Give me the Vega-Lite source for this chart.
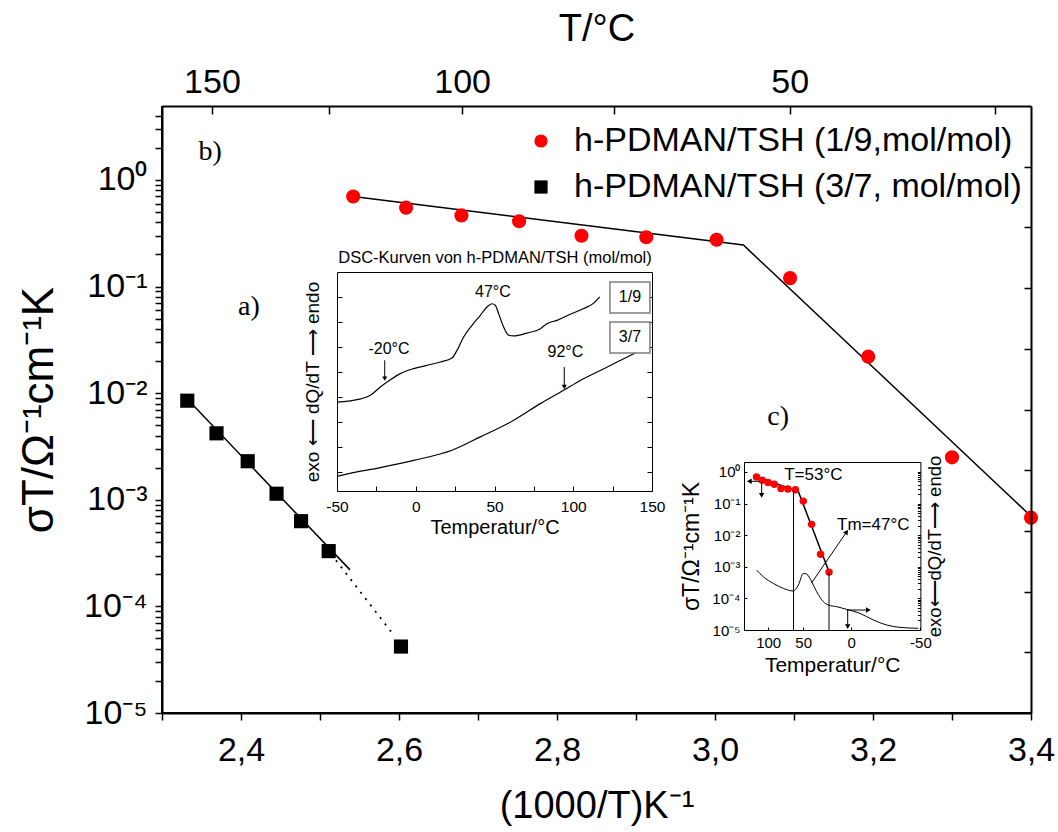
{
  "$schema": "https://vega.github.io/schema/vega-lite/v6.json",
  "width": 869,
  "height": 607,
  "autosize": "none",
  "padding": {"left": 162, "top": 106, "right": 27, "bottom": 119},
  "background": "white",
  "config": {
    "view": {"stroke": null},
    "axis": {"grid": false, "domain": true, "domainColor": "black", "tickColor": "black", "labelColor": "black", "titleColor": "black", "labelFont": "Liberation Sans", "titleFont": "Liberation Sans", "titleFontWeight": "normal", "labelOverlap": false, "labelBound": false, "labelFlush": false},
    "text": {"color": "black"}
  },
  "datasets": {
    "pts": [
      {"series": "h-PDMAN/TSH (1/9,mol/mol)", "x": 2.542, "y": 0.70},
      {"series": "h-PDMAN/TSH (1/9,mol/mol)", "x": 2.609, "y": 0.55},
      {"series": "h-PDMAN/TSH (1/9,mol/mol)", "x": 2.679, "y": 0.465},
      {"series": "h-PDMAN/TSH (1/9,mol/mol)", "x": 2.752, "y": 0.41},
      {"series": "h-PDMAN/TSH (1/9,mol/mol)", "x": 2.831, "y": 0.30},
      {"series": "h-PDMAN/TSH (1/9,mol/mol)", "x": 2.913, "y": 0.29},
      {"series": "h-PDMAN/TSH (1/9,mol/mol)", "x": 3.002, "y": 0.275},
      {"series": "h-PDMAN/TSH (1/9,mol/mol)", "x": 3.095, "y": 0.12},
      {"series": "h-PDMAN/TSH (1/9,mol/mol)", "x": 3.194, "y": 0.022},
      {"series": "h-PDMAN/TSH (1/9,mol/mol)", "x": 3.300, "y": 0.0025},
      {"series": "h-PDMAN/TSH (1/9,mol/mol)", "x": 3.400, "y": 0.00068},
      {"series": "h-PDMAN/TSH (3/7, mol/mol)", "x": 2.332, "y": 0.0085},
      {"series": "h-PDMAN/TSH (3/7, mol/mol)", "x": 2.369, "y": 0.0042},
      {"series": "h-PDMAN/TSH (3/7, mol/mol)", "x": 2.4085, "y": 0.0023},
      {"series": "h-PDMAN/TSH (3/7, mol/mol)", "x": 2.445, "y": 0.00114},
      {"series": "h-PDMAN/TSH (3/7, mol/mol)", "x": 2.476, "y": 0.00063},
      {"series": "h-PDMAN/TSH (3/7, mol/mol)", "x": 2.511, "y": 0.00033},
      {"series": "h-PDMAN/TSH (3/7, mol/mol)", "x": 2.6025, "y": 0.000042}
    ],
    "fit": [
      {"seg": "red", "x": 2.542, "y": 0.70},
      {"seg": "red", "x": 3.036, "y": 0.245},
      {"seg": "red", "x": 3.40, "y": 0.00070},
      {"seg": "black", "x": 2.332, "y": 0.0088},
      {"seg": "black", "x": 2.538, "y": 0.00022}
    ],
    "fitdot": [
      {"x": 2.514, "y": 0.00031},
      {"x": 2.594, "y": 0.000053}
    ],
    "panelLabels": [
      {"label": "b)", "x": 2.361, "y": 1.83},
      {"label": "a)", "x": 2.410, "y": 0.0642},
      {"label": "c)", "x": 3.080, "y": 0.00598}
    ],
    "dsc": [
      {"curve": "1/9", "T": -50, "v": 40.6}, {"curve": "1/9", "T": -37.3, "v": 41.7}, {"curve": "1/9", "T": -28.8, "v": 43.7}, {"curve": "1/9", "T": -22.5, "v": 47.5}, {"curve": "1/9", "T": -16.1, "v": 50.8}, {"curve": "1/9", "T": -9.8, "v": 53.6}, {"curve": "1/9", "T": -1.3, "v": 55.9}, {"curve": "1/9", "T": 7.1, "v": 57.4}, {"curve": "1/9", "T": 15.6, "v": 58.9}, {"curve": "1/9", "T": 23.0, "v": 60.7}, {"curve": "1/9", "T": 26.2, "v": 64.2}, {"curve": "1/9", "T": 30.4, "v": 70.3}, {"curve": "1/9", "T": 35.7, "v": 75.6}, {"curve": "1/9", "T": 41.0, "v": 80.2}, {"curve": "1/9", "T": 45.2, "v": 84.0}, {"curve": "1/9", "T": 48.4, "v": 85.5}, {"curve": "1/9", "T": 50.5, "v": 84.8}, {"curve": "1/9", "T": 52.6, "v": 81.0}, {"curve": "1/9", "T": 55.8, "v": 74.9}, {"curve": "1/9", "T": 59.0, "v": 71.1}, {"curve": "1/9", "T": 62.2, "v": 70.8}, {"curve": "1/9", "T": 70.6, "v": 72.1}, {"curve": "1/9", "T": 79.1, "v": 74.1}, {"curve": "1/9", "T": 83.3, "v": 76.4}, {"curve": "1/9", "T": 89.7, "v": 77.9}, {"curve": "1/9", "T": 98.1, "v": 80.7}, {"curve": "1/9", "T": 106.6, "v": 83.3}, {"curve": "1/9", "T": 113.0, "v": 85.8}, {"curve": "1/9", "T": 116.8, "v": 88.6},
      {"curve": "3/7", "T": -50, "v": 6.7}, {"curve": "3/7", "T": -37.3, "v": 8.7}, {"curve": "3/7", "T": -22.5, "v": 10.7}, {"curve": "3/7", "T": -1.3, "v": 14.0}, {"curve": "3/7", "T": 23.0, "v": 18.6}, {"curve": "3/7", "T": 41.0, "v": 24.7}, {"curve": "3/7", "T": 62.2, "v": 32.3}, {"curve": "3/7", "T": 79.1, "v": 39.9}, {"curve": "3/7", "T": 93.9, "v": 46.0}, {"curve": "3/7", "T": 104.5, "v": 50.5}, {"curve": "3/7", "T": 115.1, "v": 54.3}, {"curve": "3/7", "T": 125.7, "v": 58.1}, {"curve": "3/7", "T": 136.2, "v": 61.9}, {"curve": "3/7", "T": 140.5, "v": 63.5}
    ],
    "dscNotes": [
      {"text": "47°C", "T": 49, "v": 90.9},
      {"text": "-20°C", "T": -17, "v": 65},
      {"text": "92°C", "T": 95, "v": 63.5}
    ],
    "dscArrows": [
      {"T": -19.7, "v1": 59.7, "v2": 51.3},
      {"T": 94.3, "v1": 56.6, "v2": 47.5}
    ],
    "dscBoxes": [
      {"text": "1/9", "T1": 123.3, "T2": 148.7, "v1": 81.3, "v2": 95.4, "T": 136, "v": 88.4},
      {"text": "3/7", "T1": 123.3, "T2": 148.7, "v1": 63.0, "v2": 77.2, "T": 136, "v": 70.1}
    ],
    "cDsc": [
      {"x": 2.544, "y": 0.000785}, {"x": 2.623, "y": 0.000483}, {"x": 2.741, "y": 0.000298}, {"x": 2.860, "y": 0.000207}, {"x": 2.978, "y": 0.000171}, {"x": 3.037, "y": 0.000264}, {"x": 3.096, "y": 0.000616}, {"x": 3.136, "y": 0.000586}, {"x": 3.195, "y": 0.000336}, {"x": 3.254, "y": 0.000163}, {"x": 3.333, "y": 0.0000785}, {"x": 3.392, "y": 0.0000615}, {"x": 3.491, "y": 0.0000546}, {"x": 3.609, "y": 0.000045}, {"x": 3.767, "y": 0.0000336}, {"x": 3.925, "y": 0.0000207}, {"x": 4.082, "y": 0.0000144}, {"x": 4.240, "y": 0.0000121}, {"x": 4.457, "y": 0.0000113}
    ],
    "cRules": [
      {"x": 2.98, "y": 0.27},
      {"x": 3.40, "y": 0.00068}
    ],
    "cArrows": [
      {"dir": "left", "x1": 2.583, "y1": 0.507, "x2": 2.457, "y2": 0.507},
      {"dir": "down", "x1": 2.603, "y1": 0.507, "x2": 2.603, "y2": 0.183},
      {"dir": "right", "x1": 3.609, "y1": 0.0000428, "x2": 3.866, "y2": 0.0000428},
      {"dir": "down", "x1": 3.621, "y1": 0.0000428, "x2": 3.621, "y2": 0.0000127},
      {"dir": "diag", "x1": 3.195, "y1": 0.000313, "x2": 3.609, "y2": 0.0127}
    ],
    "cNotes": [
      {"text": "T=53°C", "x": 3.214, "y": 0.785},
      {"text": "Tm=47°C", "x": 3.924, "y": 0.0207}
    ]
  },
  "resolve": {"scale": {"x": "independent", "y": "independent", "shape": "independent", "color": "independent"}},
  "layer": [
    {
      "layer": [
        {
          "data": {"values": [{}]},
          "mark": {"type": "rule", "color": "black", "strokeWidth": 2},
          "encoding": {
            "x": {"datum": 2.3, "type": "quantitative", "scale": {"domain": [2.3, 3.4], "nice": false, "zero": false}, "axis": null},
            "y": {"datum": 0.00001, "type": "quantitative", "scale": {"type": "log", "domain": [0.00001, 4.94], "nice": false}, "axis": null},
            "y2": {"datum": 4.94}
          }
        },
        {
          "data": {"values": [{}]},
          "mark": {"type": "rule", "color": "black", "strokeWidth": 2},
          "encoding": {
            "x": {"datum": 2.3, "type": "quantitative", "scale": {"domain": [2.3, 3.4], "nice": false, "zero": false}, "axis": null},
            "x2": {"datum": 3.4},
            "y": {"datum": 0.00001, "type": "quantitative", "scale": {"type": "log", "domain": [0.00001, 4.94], "nice": false}, "axis": null}
          }
        },
        {
          "data": {"name": "fit"},
          "mark": {"type": "line", "color": "black", "strokeWidth": 1.5},
          "encoding": {
            "x": {"field": "x", "type": "quantitative", "scale": {"domain": [2.3, 3.4], "nice": false, "zero": false},
              "axis": {"orient": "top", "values": [2.36323, 2.51162, 2.67989, 2.87232, 3.09454, 3.35402],
                "labelExpr": "datum.value == 2.36323 ? '150' : datum.value == 2.67989 ? '100' : datum.value == 3.09454 ? '50' : ''",
                "title": "T/°C", "tickSize": -8, "tickWidth": 1.5, "domain": true, "domainWidth": 2, "zindex": 1, "labelPadding": 15, "titlePadding": 17,
                "labelFontSize": 34, "titleFontSize": 38}},
            "y": {"field": "y", "type": "quantitative", "scale": {"type": "log", "domain": [0.00001, 4.94], "nice": false},
              "axis": {"orient": "right", "values": [1.331, 0.3589, 0.09674, 0.02608, 0.007028, 0.001895, 0.0005108, 0.0001376, 0.00003711],
                "labels": false, "tickSize": -7, "tickWidth": 1.5, "domain": true, "domainWidth": 2, "zindex": 1, "title": null}},
            "detail": {"field": "seg"}
          }
        },
        {
          "data": {"name": "fitdot"},
          "mark": {"type": "line", "color": "black", "strokeWidth": 1.8, "strokeDash": [2, 6]},
          "encoding": {
            "x": {"field": "x", "type": "quantitative", "scale": {"domain": [2.3, 3.4], "nice": false, "zero": false}, "axis": null},
            "y": {"field": "y", "type": "quantitative", "scale": {"type": "log", "domain": [0.00001, 4.94], "nice": false}, "axis": null}
          }
        },
        {
          "data": {"name": "pts"},
          "mark": {"type": "point", "filled": true, "size": 200, "opacity": 1},
          "encoding": {
            "x": {"field": "x", "type": "quantitative", "scale": {"domain": [2.3, 3.4], "nice": false, "zero": false},
              "axis": {"orient": "bottom", "values": [2.3, 2.4, 2.5, 2.6, 2.7, 2.8, 2.9, 3.0, 3.1, 3.2, 3.3, 3.4],
                "labelExpr": "round(datum.value * 10) % 2 == 0 ? replace(format(datum.value, '.1f'), '.', ',') : ''",
                "title": "(1000/T)K⁻¹", "tickSize": 7, "tickWidth": 1.5, "domain": true, "domainWidth": 2, "domainColor": "black", "zindex": 1, "labelPadding": 13, "titlePadding": 20,
                "labelFontSize": 34, "titleFontSize": 38}},
            "y": {"field": "y", "type": "quantitative", "scale": {"type": "log", "domain": [0.00001, 4.94], "nice": false},
              "axis": {"orient": "left",
                "values": [0.00001, 0.00002, 0.00003, 0.00004, 0.00005, 0.00006, 0.00007, 0.00008, 0.00009, 0.0001, 0.0002, 0.0003, 0.0004, 0.0005, 0.0006, 0.0007, 0.0008, 0.0009, 0.001, 0.002, 0.003, 0.004, 0.005, 0.006, 0.007, 0.008, 0.009, 0.01, 0.02, 0.03, 0.04, 0.05, 0.06, 0.07, 0.08, 0.09, 0.1, 0.2, 0.3, 0.4, 0.5, 0.6, 0.7, 0.8, 0.9, 1, 2, 3, 4],
                "labelExpr": "datum.value == 1 ? '10⁰' : datum.value == 0.1 ? '10⁻¹' : datum.value == 0.01 ? '10⁻²' : datum.value == 0.001 ? '10⁻³' : datum.value == 0.0001 ? '10⁻⁴' : datum.value == 0.00001 ? '10⁻⁵' : ''",
                "title": "σT/Ω⁻¹cm⁻¹K", "tickSize": 7, "tickWidth": 1.5, "domain": true, "domainWidth": 2, "domainColor": "black", "zindex": 1, "labelPadding": 8, "titlePadding": 22,
                "labelFontSize": 34, "titleFontSize": 44}},
            "color": {"field": "series", "type": "nominal",
              "scale": {"domain": ["h-PDMAN/TSH (1/9,mol/mol)", "h-PDMAN/TSH (3/7, mol/mol)"], "range": ["#ff0000", "#000000"]},
              "legend": {"orient": "none", "legendX": 362, "legendY": 18, "title": null, "padding": 0, "labelFont": "Liberation Sans", "labelFontSize": 34, "labelColor": "black", "symbolSize": 175, "rowPadding": 12, "labelOffset": 16, "labelLimit": 0, "symbolStrokeWidth": 0}},
            "shape": {"field": "series", "type": "nominal",
              "scale": {"domain": ["h-PDMAN/TSH (1/9,mol/mol)", "h-PDMAN/TSH (3/7, mol/mol)"], "range": ["circle", "square"]},
              "legend": {"orient": "none", "legendX": 362, "legendY": 18, "title": null, "padding": 0, "labelFont": "Liberation Sans", "labelFontSize": 34, "labelColor": "black", "symbolSize": 175, "rowPadding": 12, "labelOffset": 16, "labelLimit": 0, "symbolStrokeWidth": 0}}
          }
        },
        {
          "data": {"name": "panelLabels"},
          "mark": {"type": "text", "font": "Liberation Serif", "fontSize": 28},
          "encoding": {
            "x": {"field": "x", "type": "quantitative", "scale": {"domain": [2.3, 3.4], "nice": false, "zero": false}, "axis": null},
            "y": {"field": "y", "type": "quantitative", "scale": {"type": "log", "domain": [0.00001, 4.94], "nice": false}, "axis": null},
            "text": {"field": "label"}
          }
        }
      ]
    },
    {
      "layer": [
        {
          "data": {"name": "dsc"},
          "mark": {"type": "line", "color": "black", "strokeWidth": 1.2, "interpolate": "monotone"},
          "encoding": {
            "x": {"field": "T", "type": "quantitative", "scale": {"domain": [-50, 150], "range": [175, 490], "nice": false, "zero": false},
              "axis": {"orient": "bottom", "offset": -222, "values": [-50, -25, 0, 25, 50, 75, 100, 125, 150],
                "labelExpr": "datum.value % 50 == 0 ? toString(datum.value) : ''",
                "tickSize": -5, "labelPadding": 13, "labelFontSize": 15.5, "title": "Temperatur/°C", "titleFontSize": 20, "titlePadding": 3}},
            "y": {"field": "v", "type": "quantitative", "scale": {"domain": [0, 100], "range": [385, 166], "nice": false, "zero": false},
              "axis": {"orient": "left", "offset": -175, "values": [8.7, 20.1, 31.5, 42.9, 54.3, 65.8, 77.2, 88.6],
                "labels": false, "tickSize": -5, "title": "exo ⟵ dQ/dT ⟶ endo", "titleFontSize": 19, "titlePadding": 14}},
            "detail": {"field": "curve"}
          }
        },
        {
          "data": {"name": "dscNotes"},
          "mark": {"type": "text", "fontSize": 16, "font": "Liberation Sans"},
          "encoding": {
            "x": {"field": "T", "type": "quantitative", "scale": {"domain": [-50, 150], "range": [175, 490], "nice": false, "zero": false},
              "axis": {"orient": "top", "offset": -166, "ticks": false, "labels": false, "title": "DSC-Kurven von h-PDMAN/TSH (mol/mol)", "titleFontSize": 16.5, "titlePadding": 7}},
            "y": {"field": "v", "type": "quantitative", "scale": {"domain": [0, 100], "range": [385, 166], "nice": false, "zero": false},
              "axis": {"orient": "right", "offset": -379, "values": [8.7, 20.1, 31.5, 42.9, 54.3, 65.8, 77.2, 88.6], "labels": false, "tickSize": -5, "title": null}},
            "text": {"field": "text"}
          }
        },
        {
          "data": {"name": "dscArrows"},
          "mark": {"type": "rule", "color": "black", "strokeWidth": 1},
          "encoding": {
            "x": {"field": "T", "type": "quantitative", "scale": {"domain": [-50, 150], "range": [175, 490], "nice": false, "zero": false}, "axis": null},
            "y": {"field": "v1", "type": "quantitative", "scale": {"domain": [0, 100], "range": [385, 166], "nice": false, "zero": false}, "axis": null},
            "y2": {"field": "v2"}
          }
        },
        {
          "data": {"name": "dscArrows"},
          "mark": {"type": "point", "shape": "triangle-down", "filled": true, "color": "black", "size": 26, "opacity": 1},
          "encoding": {
            "x": {"field": "T", "type": "quantitative", "scale": {"domain": [-50, 150], "range": [175, 490], "nice": false, "zero": false}, "axis": null},
            "y": {"field": "v2", "type": "quantitative", "scale": {"domain": [0, 100], "range": [385, 166], "nice": false, "zero": false}, "axis": null}
          }
        },
        {
          "data": {"name": "dscBoxes"},
          "mark": {"type": "rect", "fill": "white", "stroke": "#7f7f7f", "strokeWidth": 1.5},
          "encoding": {
            "x": {"field": "T1", "type": "quantitative", "scale": {"domain": [-50, 150], "range": [175, 490], "nice": false, "zero": false}, "axis": null},
            "x2": {"field": "T2"},
            "y": {"field": "v1", "type": "quantitative", "scale": {"domain": [0, 100], "range": [385, 166], "nice": false, "zero": false}, "axis": null},
            "y2": {"field": "v2"}
          }
        },
        {
          "data": {"name": "dscBoxes"},
          "mark": {"type": "text", "fontSize": 16, "font": "Liberation Sans"},
          "encoding": {
            "x": {"field": "T", "type": "quantitative", "scale": {"domain": [-50, 150], "range": [175, 490], "nice": false, "zero": false}, "axis": null},
            "y": {"field": "v", "type": "quantitative", "scale": {"domain": [0, 100], "range": [385, 166], "nice": false, "zero": false}, "axis": null},
            "text": {"field": "text"}
          }
        }
      ]
    },
    {
      "layer": [
        {
          "data": {"name": "cDsc"},
          "mark": {"type": "line", "color": "black", "strokeWidth": 1, "interpolate": "monotone"},
          "encoding": {
            "x": {"field": "x", "type": "quantitative", "scale": {"domain": [2.394, 4.4813], "range": [582, 758.4], "nice": false, "zero": false},
              "axis": {"orient": "bottom", "offset": -83, "values": [2.67989, 3.09454, 3.66099, 4.48129],
                "labelExpr": "datum.value == 2.67989 ? '100' : datum.value == 3.09454 ? '50' : datum.value == 3.66099 ? '0' : '-50'",
                "tickSize": -3, "labelPadding": 8, "labelFontSize": 15, "title": "Temperatur/°C", "titleFontSize": 21, "titlePadding": 4}},
            "y": {"field": "y", "type": "quantitative", "scale": {"type": "log", "domain": [0.00001, 2.07], "range": [524, 356], "nice": false},
              "axis": {"orient": "left", "offset": -582, "values": [0.00001, 0.0001, 0.001, 0.01, 0.1, 1],
                "labelExpr": "datum.value == 1 ? '10⁰' : datum.value == 0.1 ? '10⁻¹' : datum.value == 0.01 ? '10⁻²' : datum.value == 0.001 ? '10⁻³' : datum.value == 0.0001 ? '10⁻⁴' : '10⁻⁵'",
                "tickSize": -3, "labelPadding": 7, "labelFontSize": 15, "title": "σT/Ω⁻¹cm⁻¹K", "titleFontSize": 23, "titlePadding": 8}}
          }
        },
        {
          "data": {"name": "fit"},
          "transform": [{"filter": "datum.seg == 'red'"}],
          "mark": {"type": "line", "color": "black", "strokeWidth": 1.5},
          "encoding": {
            "x": {"field": "x", "type": "quantitative", "scale": {"domain": [2.394, 4.4813], "range": [582, 758.4], "nice": false, "zero": false},
              "axis": {"orient": "top", "offset": -356, "ticks": false, "labels": false, "title": null}},
            "y": {"field": "y", "type": "quantitative", "scale": {"type": "log", "domain": [0.00001, 2.07], "range": [524, 356], "nice": false},
              "axis": {"orient": "right", "offset": -110.6,
                "values": [0.00001, 0.00002, 0.00003, 0.00004, 0.00005, 0.00006, 0.00007, 0.00008, 0.00009, 0.0001, 0.0002, 0.0003, 0.0004, 0.0005, 0.0006, 0.0007, 0.0008, 0.0009, 0.001, 0.002, 0.003, 0.004, 0.005, 0.006, 0.007, 0.008, 0.009, 0.01, 0.02, 0.03, 0.04, 0.05, 0.06, 0.07, 0.08, 0.09, 0.1, 0.2, 0.3, 0.4, 0.5, 0.6, 0.7, 0.8, 0.9, 1, 2],
                "labels": false, "tickSize": -3, "title": "exo⟵dQ/dT⟶ endo", "titleFontSize": 18.5, "titleAngle": 270, "titleBaseline": "top", "titlePadding": 5}}
          }
        },
        {
          "data": {"name": "pts"},
          "transform": [{"filter": "datum.series == 'h-PDMAN/TSH (1/9,mol/mol)'"}],
          "mark": {"type": "point", "shape": "circle", "filled": true, "color": "#ff0000", "size": 55, "opacity": 1},
          "encoding": {
            "x": {"field": "x", "type": "quantitative", "scale": {"domain": [2.394, 4.4813], "range": [582, 758.4], "nice": false, "zero": false}, "axis": null},
            "y": {"field": "y", "type": "quantitative", "scale": {"type": "log", "domain": [0.00001, 2.07], "range": [524, 356], "nice": false}, "axis": null}
          }
        },
        {
          "data": {"name": "cRules"},
          "mark": {"type": "rule", "color": "black", "strokeWidth": 1},
          "encoding": {
            "x": {"field": "x", "type": "quantitative", "scale": {"domain": [2.394, 4.4813], "range": [582, 758.4], "nice": false, "zero": false}, "axis": null},
            "y": {"field": "y", "type": "quantitative", "scale": {"type": "log", "domain": [0.00001, 2.07], "range": [524, 356], "nice": false}, "axis": null},
            "y2": {"datum": 0.00001}
          }
        },
        {
          "data": {"name": "cArrows"},
          "mark": {"type": "rule", "color": "black", "strokeWidth": 1},
          "encoding": {
            "x": {"field": "x1", "type": "quantitative", "scale": {"domain": [2.394, 4.4813], "range": [582, 758.4], "nice": false, "zero": false}, "axis": null},
            "x2": {"field": "x2"},
            "y": {"field": "y1", "type": "quantitative", "scale": {"type": "log", "domain": [0.00001, 2.07], "range": [524, 356], "nice": false}, "axis": null},
            "y2": {"field": "y2"}
          }
        },
        {
          "data": {"name": "cArrows"},
          "mark": {"type": "point", "filled": true, "color": "black", "size": 30, "opacity": 1},
          "encoding": {
            "x": {"field": "x2", "type": "quantitative", "scale": {"domain": [2.394, 4.4813], "range": [582, 758.4], "nice": false, "zero": false}, "axis": null},
            "y": {"field": "y2", "type": "quantitative", "scale": {"type": "log", "domain": [0.00001, 2.07], "range": [524, 356], "nice": false}, "axis": null},
            "shape": {"field": "dir", "type": "nominal", "scale": {"domain": ["left", "down", "right", "diag"], "range": ["triangle-left", "triangle-down", "triangle-right", "triangle-up"]}, "legend": null},
            "angle": {"condition": {"test": "datum.dir == 'diag'", "value": 35}, "value": 0}
          }
        },
        {
          "data": {"name": "cNotes"},
          "mark": {"type": "text", "fontSize": 17, "font": "Liberation Sans"},
          "encoding": {
            "x": {"field": "x", "type": "quantitative", "scale": {"domain": [2.394, 4.4813], "range": [582, 758.4], "nice": false, "zero": false}, "axis": null},
            "y": {"field": "y", "type": "quantitative", "scale": {"type": "log", "domain": [0.00001, 2.07], "range": [524, 356], "nice": false}, "axis": null},
            "text": {"field": "text"}
          }
        }
      ]
    }
  ]
}
